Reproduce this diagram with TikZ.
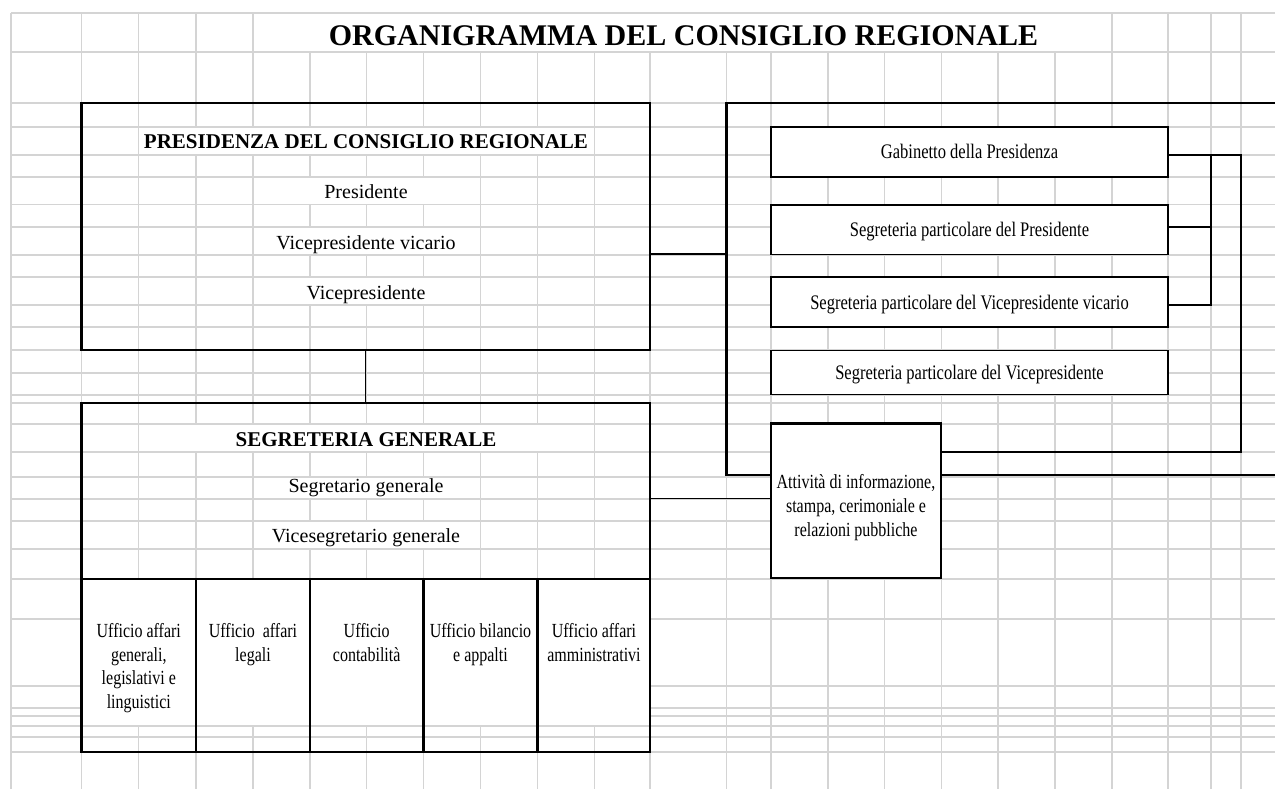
\documentclass[tikz,border=0pt]{standalone}
\usepackage{fontspec}
\setmainfont{Liberation Serif}
\newfontfamily\narrowserif[FakeStretch=0.8]{Liberation Serif}
\usetikzlibrary{fit}
\definecolor{gridgray}{RGB}{212,212,212}

\tikzset{every picture/.style={line width=0.75pt}}
\tikzset{
  cellline/.style={draw=gridgray, line width=1pt},
  mainbox/.style={draw, line width=2pt, inner sep=0pt},
  officebox/.style={draw, fill=white, line width=1.3pt, inner sep=0pt},
  attbox/.style={draw, fill=white, line width=1.7pt, inner sep=0pt},
  link/.style={line width=1pt},
  titletext/.style={anchor=base, inner sep=0pt, font=\fontsize{22.5}{27}\selectfont\bfseries},
  headtext/.style={anchor=base, inner sep=0pt, font=\fontsize{15.75}{19}\selectfont\bfseries},
  roletext/.style={anchor=base, inner sep=0pt, font=\fontsize{15}{18}\selectfont},
  officetext/.style={anchor=base, inner sep=0pt, font=\narrowserif\fontsize{15.5}{18}\selectfont},
  unittext/.style={anchor=north, inner sep=0pt, align=center,
    font=\narrowserif\fontsize{15}{17.8}\selectfont}
}

\begin{document}
\begin{tikzpicture}[x=0.75pt,y=0.75pt,yscale=-1,xscale=1]
\useasboundingbox (0,0) rectangle (1275,789);
\clip (0,0) rectangle (1275,789);
%Spreadsheet grid
\foreach \x in {11,81.6,138.8,196,253,310,366.6,423.5,480.5,537.5,594.5,650,726.5,771,828,884.5,941.5,998,1055,1112,1168,1211,1241}
  \draw[cellline] (\x,13) -- (\x,789);
\foreach \y in {13,52,103,127,155,177,204.5,227,255,277,305,327,350,373,395,403,424,452,477,499,521,549,579,619,686,708,716,726,737,752}
  \draw[cellline] (11,\y) -- (1275,\y);
%Merged cells
\fill[white] (253.7,13.7) rectangle (1111.3,51.3);
\fill[white] (139.5,127.7) rectangle (593.8,154.3);
\fill[white] (253.7,177.7) rectangle (479.8,203.8);
\fill[white] (253.7,227.7) rectangle (479.8,254.3);
\fill[white] (253.7,277.7) rectangle (479.8,304.3);
\fill[white] (139.5,424.7) rectangle (593.8,451.3);
\fill[white] (253.7,477.7) rectangle (479.8,498.3);
\fill[white] (253.7,521.7) rectangle (479.8,548.3);
\fill[white] (82.3,579.7) rectangle (649.3,725.3);

%Shape: Rectangle Presidenza
\node[mainbox, fit={(81.6,103) (650,350)}] (pres) {};
%Shape: Rectangle Segreteria
\node[mainbox, fit={(81.6,403) (650,752)}] (segr) {};
%Shape: Rectangles Uffici
\node[mainbox, fit={(81.6,579) (196,752)}] (uffA) {};
\node[mainbox, fit={(196,579) (310,752)}] (uffB) {};
\node[mainbox, fit={(310,579) (423.5,752)}] (uffC) {};
\node[mainbox, fit={(423.5,579) (537.5,752)}] (uffD) {};
\node[mainbox, fit={(537.5,579) (650,752)}] (uffE) {};
%Shape: open frame right
\node[mainbox, fit={(726.5,103) (1300,475)}] (frame) {};
%Shape: Rectangles right column
\node[officebox, fit={(771,127) (1168,177)}] (gab) {};
\node[officebox, fit={(771,205) (1168,254.5)}] (segp) {};
\node[officebox, fit={(771,277) (1168,327)}] (segvv) {};
\node[officebox, fit={(771,350.5) (1168,394.5)}] (segv) {};
%Shape: Rectangle Attivita
\node[attbox, fit={(771,423.5) (941,578)}] (att) {};

%Connectors
\coordinate (presJ) at (726.5,254);
\coordinate (segrJ) at (700,498.5);
\coordinate (busA) at (1241,155);
\coordinate (busB) at (1211,155);
\coordinate (segpJ) at (1190,227);
\coordinate (segvvJ) at (1190,305);
\coordinate (attJ) at (1000,452);
\draw[link] (pres.south) -- (segr.north);
\draw[link] (pres.east |- presJ) -- (presJ);
\draw[link] (segr.east |- segrJ) -- (att.west |- segrJ);
\draw[link] (gab.east |- busA) -- (busA) |- (att.east |- attJ);
\draw[link] (busB) |- (segvv.east |- segvvJ);
\draw[link] (segp.east |- segpJ) -- (busB |- segpJ);

% Text Node
\node[titletext] (title) at (683.5,45) {ORGANIGRAMMA DEL CONSIGLIO REGIONALE};
% Text Node
\node[headtext] (presHead) at (366,148.3) {PRESIDENZA DEL CONSIGLIO REGIONALE};
\node[roletext] (presA) at (366,198.5) {Presidente};
\node[roletext] (presB) at (366,249) {Vicepresidente vicario};
\node[roletext] (presC) at (366,299) {Vicepresidente};
% Text Node
\node[headtext] (segrHead) at (366,446.7) {SEGRETERIA GENERALE};
\node[roletext] (segrA) at (366,492.5) {Segretario generale};
\node[roletext] (segrB) at (366,542.5) {Vicesegretario generale};
% Text Node
\node[officetext] (gabTxt) at (969.5,158.5) {Gabinetto della Presidenza};
\node[officetext] (segpTxt) at (969.5,236.9) {Segreteria particolare del Presidente};
\node[officetext] (segvvTxt) at (969.5,309.5) {Segreteria particolare del Vicepresidente vicario};
\node[officetext] (segvTxt) at (969.5,379.3) {Segreteria particolare del Vicepresidente};
% Text Node
\node[unittext] (attTxt) at (856,474) {Attività di informazione,\\stampa, cerimoniale e\\relazioni pubbliche};
% Text Node
\node[unittext] (uffAtxt) at (138.8,622.8) {Ufficio affari\\generali,\\legislativi e\\linguistici};
\node[unittext] (uffBtxt) at (253,622.8) {Ufficio\ \ affari\\legali};
\node[unittext] (uffCtxt) at (366.7,622.8) {Ufficio\\contabilità};
\node[unittext] (uffDtxt) at (480.5,622.8) {Ufficio bilancio\\e appalti};
\node[unittext] (uffEtxt) at (594,622.8) {Ufficio affari\\amministrativi};

\end{tikzpicture}
\end{document}
